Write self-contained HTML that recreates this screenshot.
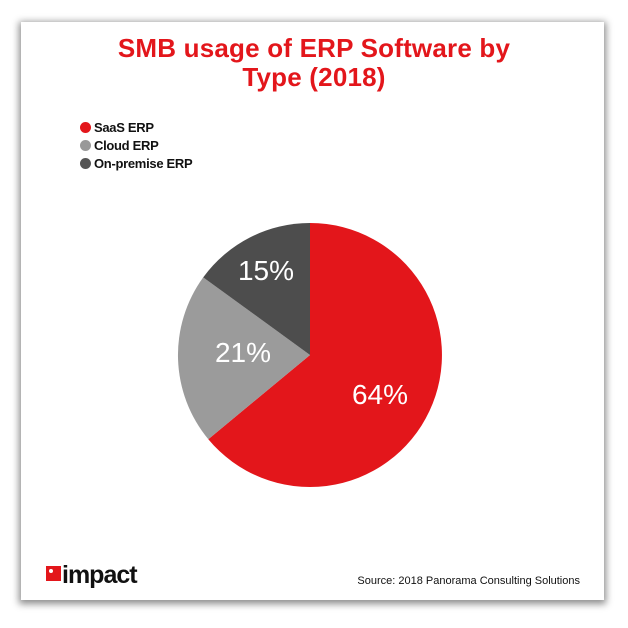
<!DOCTYPE html>
<html><head><meta charset="utf-8"><style>
body{margin:0;width:628px;height:628px;background:#fff;position:relative;overflow:hidden;font-family:"Liberation Sans",sans-serif}
.card{position:absolute;left:21px;top:22px;width:583px;height:578px;background:#fff;box-shadow:0 2px 7px 2px rgba(0,0,0,.45)}
.t{position:absolute;left:0;width:628px;text-align:center;color:#e3161b;font-weight:bold;font-size:26px;letter-spacing:0.2px}
.lg{position:absolute;left:80px;font-size:13px;font-weight:bold;color:#111;letter-spacing:-0.3px}
.lg i{display:inline-block;width:11px;height:11px;border-radius:50%;margin-right:3px;vertical-align:-1px}
</style></head><body>
<div class="card"></div>
<div class="t" style="top:33px">SMB usage of ERP Software by</div>
<div class="t" style="top:62px">Type (2018)</div>
<div class="lg" style="top:120px"><i style="background:#e3161b"></i>SaaS ERP</div>
<div class="lg" style="top:138px"><i style="background:#999"></i>Cloud ERP</div>
<div class="lg" style="top:156px"><i style="background:#555"></i>On-premise ERP</div>
<svg style="position:absolute;left:0;top:0" width="628" height="628">
<path d="M310,355 L310,223 A132,132 0 1,1 208.3,439.2 Z" fill="#e3161b"/>
<path d="M310,355 L208.3,439.2 A132,132 0 0,1 203.2,277.4 Z" fill="#9b9b9b"/>
<path d="M310,355 L203.2,277.4 A132,132 0 0,1 310,223 Z" fill="#4d4d4d"/>
<g fill="#fff" font-family="Liberation Sans,sans-serif" font-size="28" text-anchor="middle">
<text x="380" y="404">64%</text>
<text x="243" y="362">21%</text>
<text x="266" y="280">15%</text>
</g>
<rect x="46" y="566" width="15" height="15" fill="#e3161b"/>
<circle cx="51" cy="571" r="2" fill="#fff"/>
<text x="62" y="583" font-family="Liberation Sans,sans-serif" font-weight="bold" font-size="25" fill="#111" letter-spacing="-1">impact</text>
<text x="580" y="584" text-anchor="end" font-family="Liberation Sans,sans-serif" font-size="11" fill="#111">Source: 2018 Panorama Consulting Solutions</text>
</svg>
</body></html>
